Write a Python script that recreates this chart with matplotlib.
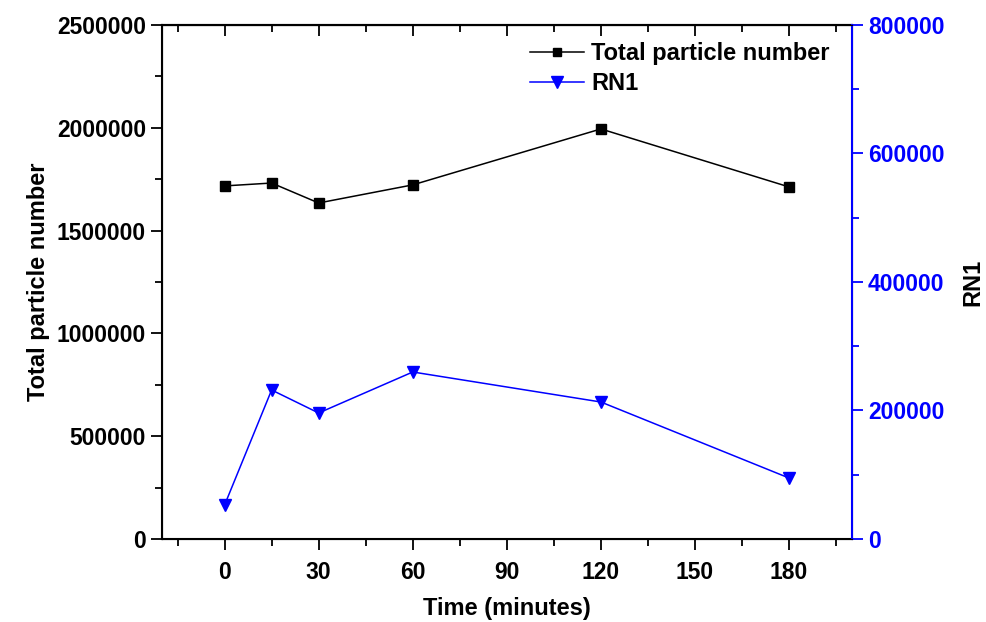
import matplotlib.pyplot as plt
from matplotlib.ticker import MultipleLocator, ScalarFormatter
from matplotlib.lines import Line2D

plt.rcParams['font.family'] = ['Liberation Sans', 'DejaVu Sans']
plt.rcParams['font.weight'] = 'bold'

# data
time_min = [0, 15, 30, 60, 120, 180]
total_particles = [1717000, 1731000, 1634000, 1722000, 1994000, 1712000]
rn1 = [52900, 231900, 196100, 259900, 213200, 94900]

fig = plt.figure(figsize=(9.87, 6.22), dpi=100)
ax = fig.add_axes([0.164, 0.1334, 0.699, 0.8266])

ax.plot(time_min, total_particles, color='black', lw=1.1, marker='s', ms=7.5)
ax.set_xlim(-20, 200)
ax.set_ylim(0, 2500000)
ax.xaxis.set_major_locator(MultipleLocator(30))
ax.xaxis.set_minor_locator(MultipleLocator(15))
ax.yaxis.set_major_locator(MultipleLocator(500000))
ax.yaxis.set_minor_locator(MultipleLocator(250000))
fmt = ScalarFormatter(useOffset=False)
fmt.set_scientific(False)
ax.yaxis.set_major_formatter(fmt)
ax.tick_params(axis='x', which='both', direction='out', top=False,
               labelsize=16.5, width=1.3, pad=8)
ax.tick_params(axis='x', which='major', length=8)
ax.tick_params(axis='x', which='minor', length=5)
ax.tick_params(axis='y', which='both', direction='out', labelsize=16.5, width=1.3)
ax.tick_params(axis='y', which='major', length=8)
ax.tick_params(axis='y', which='minor', length=5)
for sp in ['left', 'bottom', 'top']:
    ax.spines[sp].set_linewidth(1.5)
ax.set_xlabel('Time (minutes)', fontsize=17, fontweight='bold', labelpad=9)
ax.set_ylabel('Total particle number', fontsize=17, fontweight='bold', labelpad=5)

# top ticks point inward
ax2top = ax.secondary_xaxis('top')
ax2top.xaxis.set_major_locator(MultipleLocator(30))
ax2top.xaxis.set_minor_locator(MultipleLocator(15))
ax2top.tick_params(which='both', direction='in', labeltop=False, width=1.3)
ax2top.tick_params(which='major', length=8)
ax2top.tick_params(which='minor', length=5)
ax2top.spines['top'].set_linewidth(1.5)

axr = ax.twinx()
axr.plot(time_min, rn1, color='blue', lw=1.1, marker='v', ms=9)
axr.set_ylim(0, 800000)
axr.yaxis.set_major_locator(MultipleLocator(200000))
axr.yaxis.set_minor_locator(MultipleLocator(100000))
axr.tick_params(axis='y', which='both', direction='out', colors='blue',
                labelsize=16.5, width=1.3)
axr.tick_params(axis='y', which='major', length=8)
axr.tick_params(axis='y', which='minor', length=5)
axr.spines['right'].set_color('blue')
axr.spines['right'].set_linewidth(1.5)
axr.set_ylabel('RN1', fontsize=17, fontweight='bold', labelpad=12)

handles = [
    Line2D([], [], color='black', lw=1.1, marker='s', ms=6),
    Line2D([], [], color='blue', lw=1.1, marker='v', ms=8),
]
ax.legend(handles, ['Total particle number', 'RN1'], loc='upper right',
          frameon=False, fontsize=17, handlelength=2.3, handletextpad=0.3,
          borderaxespad=0.0, labelspacing=0.3, bbox_to_anchor=(0.982, 0.985))

fig.savefig('out.png', dpi=100)
